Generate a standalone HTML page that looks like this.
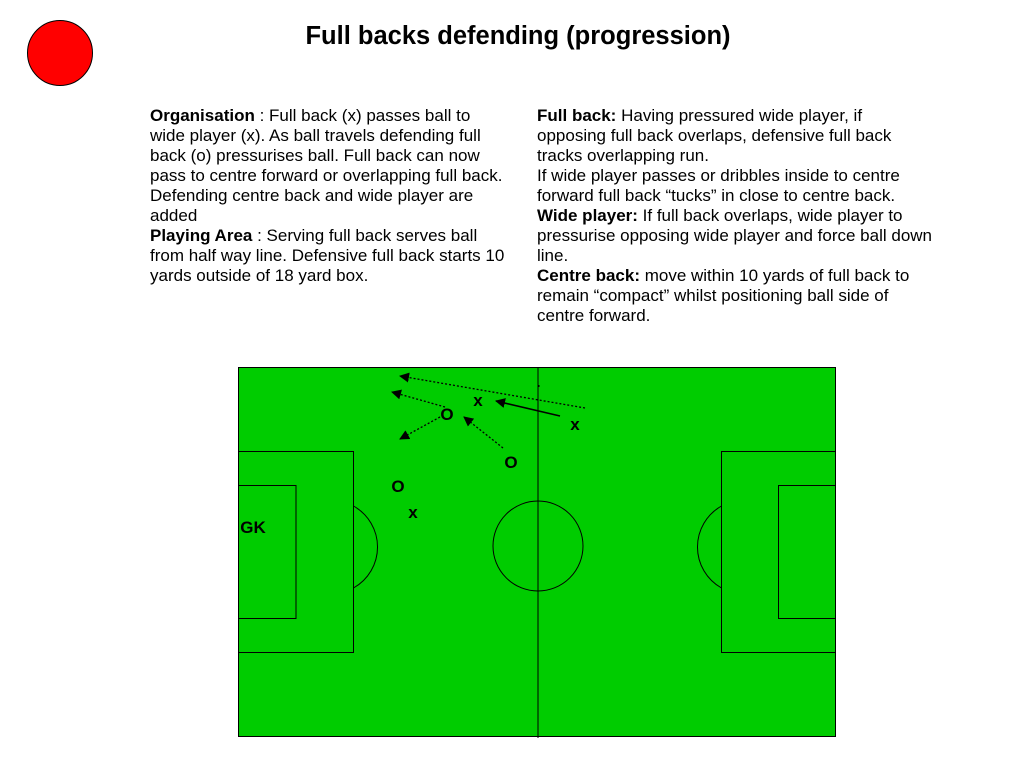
<!DOCTYPE html>
<html><head><meta charset="utf-8"><style>
html,body{margin:0;padding:0;background:#fff;}
svg{display:block;}
text{font-family:"Liberation Sans",Arial,sans-serif;}
</style></head><body>
<svg width="1024" height="768" viewBox="0 0 1024 768" xmlns="http://www.w3.org/2000/svg">
<defs>
<marker id="ah" viewBox="0 0 10 10" refX="9" refY="5" markerWidth="10" markerHeight="10" markerUnits="userSpaceOnUse" orient="auto"><path d="M0,0 L10,5 L0,10 z" fill="#000"/></marker>
</defs>
<circle cx="60" cy="53" r="32.5" fill="#ff0000" stroke="#000" stroke-width="1"/>
<text x="518" y="44" text-anchor="middle" font-size="25.5" font-weight="bold">Full backs defending (progression)</text>
<g font-size="17">
<text x="150" y="121"><tspan font-weight="bold">Organisation</tspan> : Full back (x) passes ball to</text>
<text x="150" y="141">wide player (x). As ball travels defending full</text>
<text x="150" y="161">back (o) pressurises ball. Full back can now</text>
<text x="150" y="181">pass to centre forward or overlapping full back.</text>
<text x="150" y="201">Defending centre back and wide player are</text>
<text x="150" y="221">added</text>
<text x="150" y="241"><tspan font-weight="bold">Playing Area</tspan> : Serving full back serves ball</text>
<text x="150" y="261">from half way line. Defensive full back starts 10</text>
<text x="150" y="281">yards outside of 18 yard box.</text>
<text x="537" y="121"><tspan font-weight="bold">Full back:</tspan> Having pressured wide player, if</text>
<text x="537" y="141">opposing full back overlaps, defensive full back</text>
<text x="537" y="161">tracks overlapping run.</text>
<text x="537" y="181">If wide player passes or dribbles inside to centre</text>
<text x="537" y="201">forward full back “tucks” in close to centre back.</text>
<text x="537" y="221"><tspan font-weight="bold">Wide player:</tspan> If full back overlaps, wide player to</text>
<text x="537" y="241">pressurise opposing wide player and force ball down</text>
<text x="537" y="261">line.</text>
<text x="537" y="281"><tspan font-weight="bold">Centre back:</tspan> move within 10 yards of full back to</text>
<text x="537" y="301">remain “compact” whilst positioning ball side of</text>
<text x="537" y="321">centre forward.</text>
</g>
<g stroke="#000" stroke-width="1" fill="none">
<rect x="238.5" y="367.5" width="597" height="369" fill="#00cc00" stroke="#000"/>
<line x1="538" y1="367" x2="538" y2="738"/>
<circle cx="538" cy="546" r="45"/>
<rect x="238.5" y="451.5" width="115" height="201"/>
<rect x="238.5" y="485.5" width="57.5" height="133"/>
<path d="M353.5,506 A47,47 0 0 1 353.5,588"/>
<rect x="721.5" y="451.5" width="114" height="201"/>
<rect x="778.5" y="485.5" width="57" height="133"/>
<path d="M721.5,506 A47,47 0 0 0 721.5,588"/>
<g stroke-dasharray="2,2" stroke-width="1.3">
<line x1="585" y1="408" x2="400" y2="376" marker-end="url(#ah)"/>
<line x1="445" y1="407" x2="392" y2="392" marker-end="url(#ah)"/>
<line x1="440" y1="417" x2="400" y2="439" marker-end="url(#ah)"/>
<line x1="503" y1="448" x2="464" y2="417" marker-end="url(#ah)"/>
</g>
<line x1="560" y1="416" x2="496" y2="401" stroke-width="1.5" marker-end="url(#ah)"/>
<line x1="539" y1="385" x2="539" y2="387"/>
</g>
<g font-size="17" font-weight="bold" text-anchor="middle">
<text x="478" y="406">x</text>
<text x="575" y="430">x</text>
<text x="447" y="420">O</text>
<text x="511" y="468">O</text>
<text x="398" y="492">O</text>
<text x="413" y="518">x</text>
<text x="253" y="533">GK</text>
</g>
</svg>
</body></html>
